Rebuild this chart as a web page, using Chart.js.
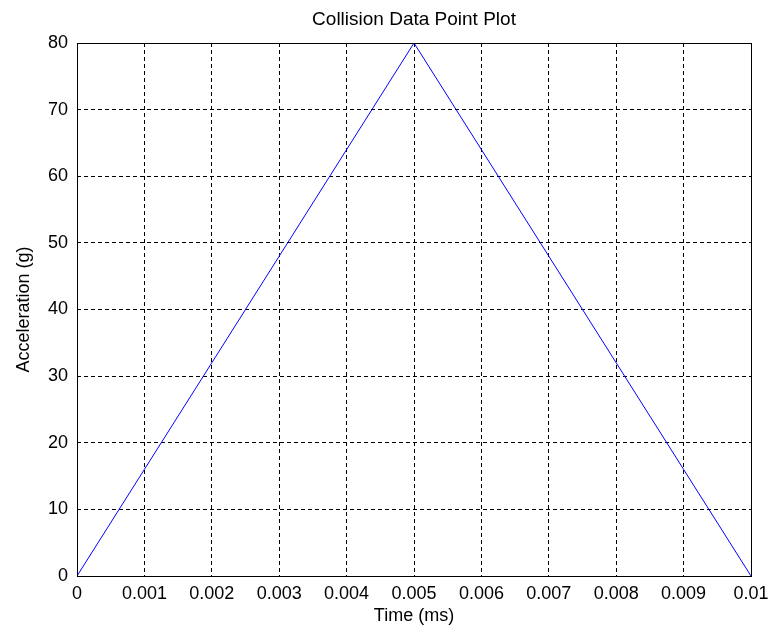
<!DOCTYPE html>
<html>
<head>
<meta charset="utf-8">
<script src="https://cdn.jsdelivr.net/npm/chart.js@4/dist/chart.umd.min.js"></script>
<style>
  html, body { margin: 0; padding: 0; background: #ffffff; }
  #c { display: block; }
</style>
</head>
<body>
<canvas id="c" width="771" height="637"></canvas>
<script>
// ---- data ----
const timeValues = [0, 0.001, 0.002, 0.003, 0.004, 0.005, 0.006, 0.007, 0.008, 0.009, 0.01];
const accelValues = [0, 16, 32, 48, 64, 80, 64, 48, 32, 16, 0];
const xTickValues = [0, 0.001, 0.002, 0.003, 0.004, 0.005, 0.006, 0.007, 0.008, 0.009, 0.01];
const xTickLabels = ['0', '0.001', '0.002', '0.003', '0.004', '0.005', '0.006', '0.007', '0.008', '0.009', '0.01'];
const yTickValues = [0, 10, 20, 30, 40, 50, 60, 70, 80];
const yTickLabels = ['0', '10', '20', '30', '40', '50', '60', '70', '80'];
const chartTitle = 'Collision Data Point Plot';
const xTitle = 'Time (ms)';
const yTitle = 'Acceleration (g)';

const FONT = "'Liberation Sans', Arial, sans-serif";

const boxPlugin = {
  id: 'boxPlugin',
  afterLayout(chart) {
    // centre the title over the plot area, as MATLAB does
    if (chart.titleBlock) {
      chart.titleBlock.left = chart.chartArea.left;
      chart.titleBlock.right = chart.chartArea.right;
    }
  },
  afterDraw(chart) {
    const {ctx, chartArea: a} = chart;
    ctx.save();
    ctx.strokeStyle = '#000';
    ctx.lineWidth = 1;
    ctx.setLineDash([]);
    ctx.strokeRect(Math.round(a.left) + 0.5, Math.round(a.top) + 0.5,
                   Math.round(a.right - a.left), Math.round(a.bottom - a.top));
    ctx.restore();
  }
};

new Chart(document.getElementById('c'), {
  type: 'line',
  data: {
    datasets: [{
      data: timeValues.map((t, i) => ({x: t, y: accelValues[i]})),
      borderColor: 'rgb(0,0,255)',
      borderWidth: 1,
      pointRadius: 0,
      tension: 0,
      fill: false
    }]
  },
  options: {
    responsive: false,
    devicePixelRatio: 1,
    animation: false,
    layout: { padding: { left: 0, right: 20, top: 0, bottom: 0 } },
    plugins: {
      legend: { display: false },
      tooltip: { enabled: false },
      title: {
        display: true,
        text: chartTitle,
        color: '#000',
        font: { family: FONT, size: 19, weight: 'normal' },
        padding: { top: 8, bottom: 12.2 }
      }
    },
    scales: {
      x: {
        type: 'linear',
        min: 0,
        max: 0.01,
        afterBuildTicks: s => { s.ticks = xTickValues.map(v => ({value: v})); },
        afterFit: s => { s.height = 61; s.paddingLeft = 0; s.paddingRight = 0; },
        grid: { color: '#000', lineWidth: 1, drawTicks: false },
        border: { display: false, dash: [4, 3] },
        ticks: {
          color: '#000',
          padding: 7,
          maxRotation: 0,
          autoSkip: false,
          font: { family: FONT, size: 18 },
          callback: (v, i) => xTickLabels[i]
        },
        title: {
          display: true,
          text: xTitle,
          color: '#000',
          font: { family: FONT, size: 18 },
          padding: { top: 0, bottom: 10 }
        }
      },
      y: {
        type: 'linear',
        min: 0,
        max: 80,
        afterBuildTicks: s => { s.ticks = yTickValues.map(v => ({value: v})); },
        afterFit: s => { s.width = 77; s.paddingTop = 0; s.paddingBottom = 0; },
        grid: { color: '#000', lineWidth: 1, drawTicks: false },
        border: { display: false, dash: [4, 3] },
        ticks: {
          color: '#000',
          padding: 9,
          autoSkip: false,
          font: { family: FONT, size: 18 },
          callback: (v, i) => yTickLabels[i]
        },
        title: {
          display: true,
          text: yTitle,
          color: '#000',
          font: { family: FONT, size: 18 },
          padding: { top: 13, bottom: 0 }
        }
      }
    }
  },
  plugins: [boxPlugin]
});
</script>
</body>
</html>
